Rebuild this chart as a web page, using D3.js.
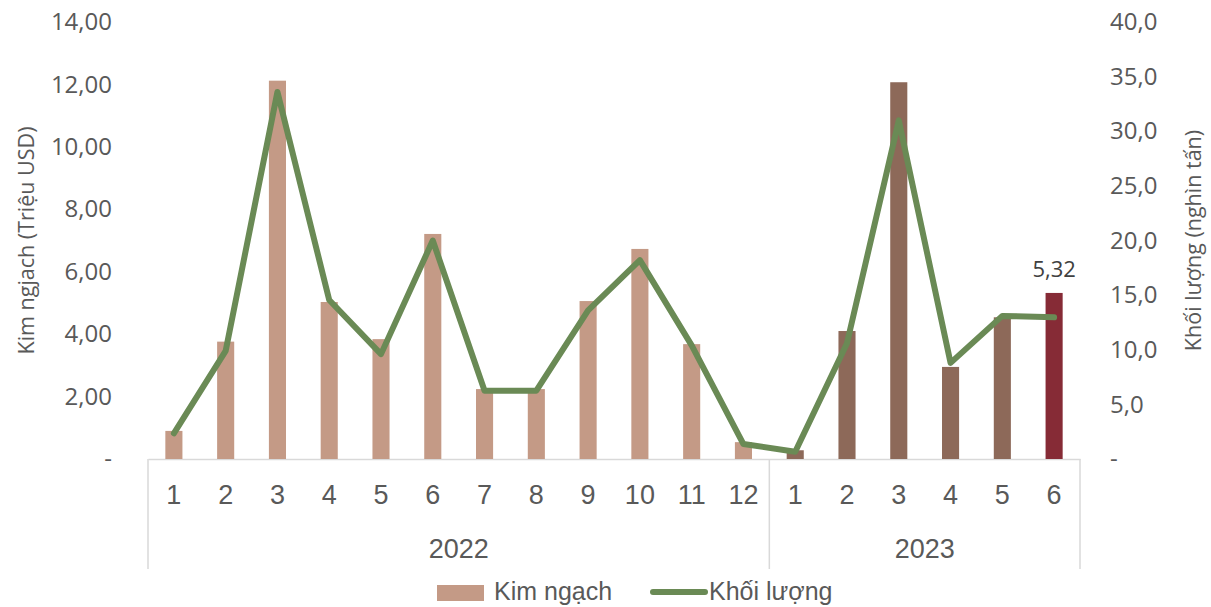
<!DOCTYPE html>
<html>
<head>
<meta charset="utf-8">
<script src="https://cdn.jsdelivr.net/npm/d3@7"></script>
<style>
  body { margin: 0; background: #fff; }
  svg text { fill: #595959; }
</style>
</head>
<body>
<div id="chart"></div>
<script>
var months = [1,2,3,4,5,6,7,8,9,10,11,12,1,2,3,4,5,6]
var years = ["2022","2022","2022","2022","2022","2022","2022","2022","2022","2022","2022","2022","2023","2023","2023","2023","2023","2023"]
var kimNgach = [0.90,3.76,12.12,5.03,3.84,7.21,2.24,2.24,5.06,6.73,3.68,0.54,0.28,4.10,12.07,2.95,4.54,5.32]
var khoiLuong = [2.35,9.9,33.6,14.55,9.6,20.0,6.25,6.25,13.6,18.2,10.4,1.37,0.67,10.6,31.0,8.8,13.1,12.97]
var leftTicks = [0,2,4,6,8,10,12,14]
var rightTicks = [0,5,10,15,20,25,30,35,40]
var yearGroups = ["2022","2023"]
var legendLabels = ["Kim ngạch","Khối lượng"]

var fullWidth = 1211;
var fullHeight = 607;
var plot = {left: 148, right: 1080, top: 22, bottom: 459};

var loc = d3.formatLocale({decimal: ",", thousands: ".", grouping: [3], currency: ["", ""]});
var f2 = loc.format(".2f");
var f1 = loc.format(".1f");

var keys = months.map(function(m, i) { return years[i] + "-" + m; });

var x = d3.scaleBand().domain(keys).range([plot.left, plot.right]).paddingInner(0).paddingOuter(0);
var yL = d3.scaleLinear().domain([0, 14]).range([plot.bottom, plot.top]);
var yR = d3.scaleLinear().domain([0, 40]).range([plot.bottom, plot.top]);

var svg = d3.select("#chart").append("svg")
  .attr("width", fullWidth)
  .attr("height", fullHeight)
  .style("font-family", "'Open Sans', sans-serif");

// left axis
var gL = svg.append("g")
  .attr("transform", "translate(122,0)")
  .call(d3.axisLeft(yL).tickValues(leftTicks).tickSize(0).tickPadding(10)
    .tickFormat(function(d) { return d === 0 ? "-" : f2(d); }));
gL.select(".domain").remove();
gL.selectAll("text").style("font-size", "24px").style("font-family", "'Open Sans', sans-serif").attr("fill", "#595959");

// right axis
var gR = svg.append("g")
  .attr("transform", "translate(1100,0)")
  .call(d3.axisRight(yR).tickValues(rightTicks).tickSize(0).tickPadding(10)
    .tickFormat(function(d) { return d === 0 ? "-" : f1(d); }));
gR.select(".domain").remove();
gR.selectAll("text").style("font-size", "24px").style("font-family", "'Open Sans', sans-serif").attr("fill", "#595959");

// axis titles
svg.append("text")
  .attr("transform", "translate(26," + ((plot.top + plot.bottom) / 2) + ") rotate(-90)")
  .attr("text-anchor", "middle")
  .attr("dy", "0.35em")
  .style("font-size", "21.5px")
  .text("Kim ngjach (Triệu USD)");

svg.append("text")
  .attr("transform", "translate(1193," + ((plot.top + plot.bottom) / 2) + ") rotate(-90)")
  .attr("text-anchor", "middle")
  .attr("dy", "0.35em")
  .style("font-size", "21.5px")
  .text("Khối lượng (nghìn tấn)");

// bottom axis with month labels
var gX = svg.append("g")
  .attr("transform", "translate(0," + plot.bottom + ")")
  .call(d3.axisBottom(x).tickSize(0).tickPadding(26)
    .tickFormat(function(d, i) { return months[i]; }));
gX.select(".domain").attr("stroke", "#d9d9d9").attr("stroke-width", 1.5);
gX.selectAll("text")
  .style("font-size", "27px")
  .style("font-family", "'Liberation Sans', Arial, sans-serif")
  .attr("fill", "#595959");

// year group separators and labels
var groupBounds = yearGroups.map(function(yr) {
  var ks = keys.filter(function(k, i) { return years[i] === yr; });
  return {year: yr, x0: x(ks[0]), x1: x(ks[ks.length - 1]) + x.bandwidth()};
});
var sepX = [groupBounds[0].x0].concat(groupBounds.map(function(g) { return g.x1; }));
svg.selectAll(".sep")
  .data(sepX)
  .enter().append("line")
    .attr("class", "sep")
    .attr("x1", function(d) { return d; })
    .attr("x2", function(d) { return d; })
    .attr("y1", plot.bottom)
    .attr("y2", 569)
    .attr("stroke", "#d9d9d9")
    .attr("stroke-width", 1.5);

svg.selectAll(".yearLabel")
  .data(groupBounds)
  .enter().append("text")
    .attr("class", "yearLabel")
    .attr("x", function(d) { return (d.x0 + d.x1) / 2; })
    .attr("y", 558)
    .attr("text-anchor", "middle")
    .style("font-size", "27px")
    .style("font-family", "'Liberation Sans', Arial, sans-serif")
    .text(function(d) { return d.year; });

// bars
function barColor(i) {
  if (i === keys.length - 1) return "#862b36";
  return years[i] === "2022" ? "#c49a86" : "#8d6959";
}
var barW = x.bandwidth() * 0.33;

svg.selectAll(".bar")
  .data(kimNgach)
  .enter().append("rect")
    .attr("class", "bar")
    .attr("x", function(d, i) { return x(keys[i]) + (x.bandwidth() - barW) / 2; })
    .attr("y", function(d) { return yL(d); })
    .attr("width", barW)
    .attr("height", function(d) { return yL(0) - yL(d); })
    .attr("fill", function(d, i) { return barColor(i); });

// line
var line = d3.line()
  .x(function(d, i) { return x(keys[i]) + x.bandwidth() / 2; })
  .y(function(d) { return yR(d); });

svg.append("path")
  .datum(khoiLuong)
  .attr("d", line)
  .attr("fill", "none")
  .attr("stroke", "#6a8a55")
  .attr("stroke-width", 6)
  .attr("stroke-linejoin", "round")
  .attr("stroke-linecap", "round");

// data label on last bar
var last = kimNgach.length - 1;
svg.append("text")
  .attr("x", x(keys[last]) + x.bandwidth() / 2)
  .attr("y", yL(kimNgach[last]) - 16)
  .attr("text-anchor", "middle")
  .style("font-size", "22px")
  .style("fill", "#404040")
  .text(f2(kimNgach[last]));

// legend
var lg = svg.append("g").attr("transform", "translate(437,0)");
lg.append("rect")
  .attr("x", 0).attr("y", 585)
  .attr("width", 47).attr("height", 16)
  .attr("fill", "#c49a86");
lg.append("text")
  .attr("x", 57).attr("y", 600)
  .style("font-size", "25px")
  .style("font-family", "'Liberation Sans', Arial, sans-serif")
  .text(legendLabels[0]);
lg.append("line")
  .attr("x1", 216).attr("x2", 268).attr("y1", 592).attr("y2", 592)
  .attr("stroke", "#6a8a55").attr("stroke-width", 6).attr("stroke-linecap", "round");
lg.append("text")
  .attr("x", 272).attr("y", 600)
  .style("font-size", "25px")
  .style("font-family", "'Liberation Sans', Arial, sans-serif")
  .text(legendLabels[1]);
</script>
</body>
</html>
